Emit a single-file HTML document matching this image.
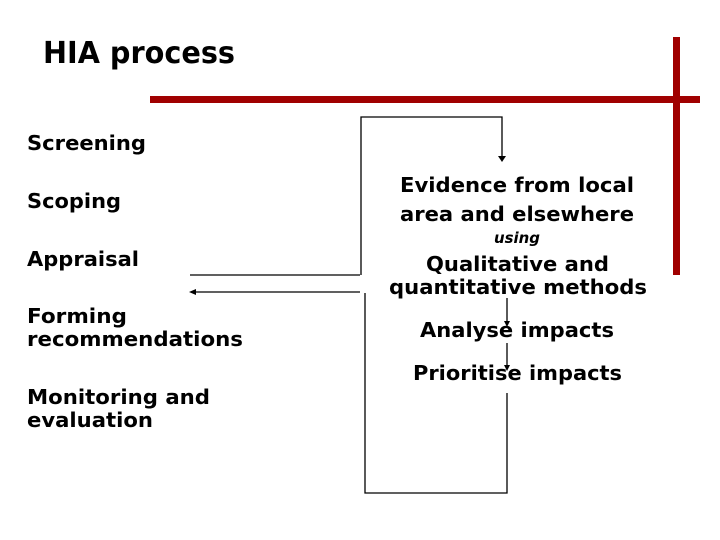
<!DOCTYPE html>
<html><head><meta charset="utf-8"><style>
html,body{margin:0;padding:0;background:#fff;width:720px;height:540px;overflow:hidden}
svg{display:block}
text{font-family:"DejaVu Sans","Liberation Sans",sans-serif;font-weight:bold;fill:#000}
</style></head><body>
<svg width="720" height="540" viewBox="0 0 720 540" xmlns="http://www.w3.org/2000/svg">
<rect x="150" y="96" width="550" height="7" fill="#a00000"/>
<rect x="673" y="37" width="7" height="238" fill="#a00000"/>
<text x="43" y="63" font-size="30" font-family="Liberation Sans" textLength="192" lengthAdjust="spacingAndGlyphs">HIA process</text>
<g font-size="20">
<text x="27" y="150" textLength="119" lengthAdjust="spacingAndGlyphs">Screening</text>
<text x="27" y="208" textLength="94" lengthAdjust="spacingAndGlyphs">Scoping</text>
<text x="27" y="266" textLength="112" lengthAdjust="spacingAndGlyphs">Appraisal</text>
<text x="27" y="323" textLength="100" lengthAdjust="spacingAndGlyphs">Forming</text>
<text x="27" y="346" textLength="216" lengthAdjust="spacingAndGlyphs">recommendations</text>
<text x="27" y="404" textLength="183" lengthAdjust="spacingAndGlyphs">Monitoring and</text>
<text x="27" y="427" textLength="126" lengthAdjust="spacingAndGlyphs">evaluation</text>
<text x="400" y="192" textLength="234" lengthAdjust="spacingAndGlyphs">Evidence from local</text>
<text x="400" y="221" textLength="234" lengthAdjust="spacingAndGlyphs">area and elsewhere</text>
<text x="426" y="271" textLength="183" lengthAdjust="spacingAndGlyphs">Qualitative and</text>
<text x="389" y="294" textLength="258" lengthAdjust="spacingAndGlyphs">quantitative methods</text>
<text x="420" y="337" textLength="194" lengthAdjust="spacingAndGlyphs">Analyse impacts</text>
<text x="413" y="380" textLength="209" lengthAdjust="spacingAndGlyphs">Prioritise impacts</text>
</g>
<text x="494" y="243" font-size="15" font-style="italic" font-weight="normal" textLength="46" lengthAdjust="spacingAndGlyphs">using</text>
<g stroke="#000" stroke-width="1.3" fill="none">
<polyline points="361,275 361,117 502,117 502,157"/>
<line x1="190" y1="275" x2="360" y2="275"/>
<line x1="194" y1="292" x2="360" y2="292"/>
<polyline points="365,293 365,493 507,493 507,393"/>
<line x1="507" y1="298" x2="507" y2="322"/>
<line x1="507" y1="343" x2="507" y2="366"/>
</g>
<g fill="#000">
<polygon points="498,156 506,156 502,162"/>
<polygon points="189,292 196,289 196,295"/>
<polygon points="504,321 510,321 507,327"/>
<polygon points="504,365 510,365 507,371"/>
</g>
</svg>
</body></html>
